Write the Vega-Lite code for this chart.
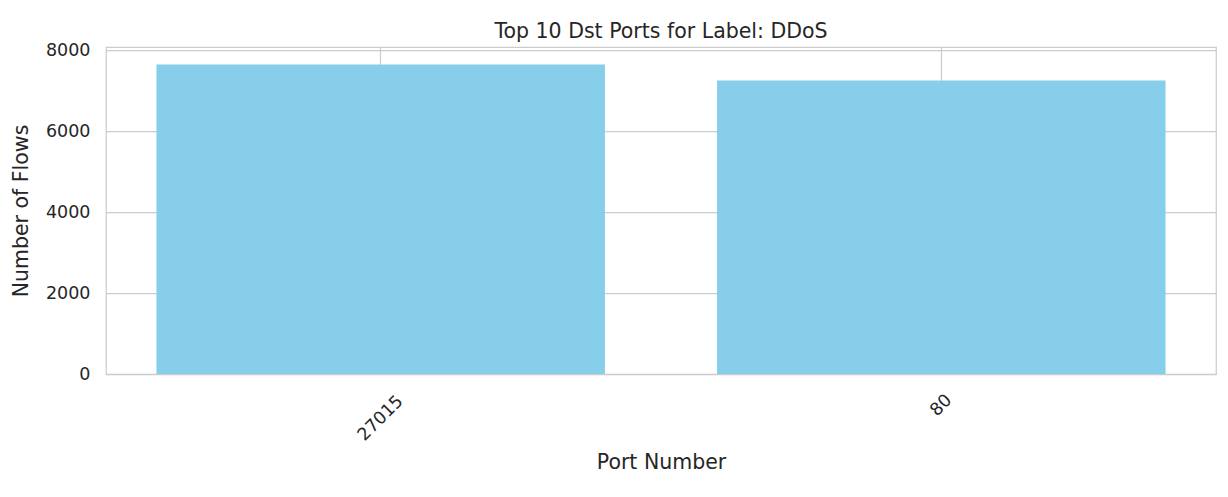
{
  "$schema": "https://vega.github.io/schema/vega-lite/v6.json",
  "autosize": {"type": "none"},
  "padding": {"left": 106, "top": 47, "right": 12, "bottom": 123},
  "width": 1110,
  "height": 327,
  "background": "white",
  "title": {
    "text": "Top 10 Dst Ports for Label: DDoS",
    "font": "DejaVu Sans",
    "fontSize": 20.5,
    "fontWeight": "normal",
    "color": "#262626",
    "offset": -1
  },
  "config": {
    "view": {"stroke": "#cccccc", "strokeWidth": 1.25},
    "axis": {
      "labelFont": "DejaVu Sans",
      "titleFont": "DejaVu Sans",
      "labelColor": "#262626",
      "titleColor": "#262626",
      "titleFontWeight": "normal",
      "gridColor": "#cccccc",
      "gridWidth": 1.25,
      "gridOpacity": 1,
      "domain": false,
      "ticks": false
    }
  },
  "data": {
    "values": [
      {"port": "27015", "flows": 7650},
      {"port": "80", "flows": 7250}
    ]
  },
  "mark": {"type": "bar", "color": "#87CEEB"},
  "encoding": {
    "x": {
      "field": "port",
      "type": "nominal",
      "sort": null,
      "scale": {"paddingInner": 0.2, "paddingOuter": 0.09},
      "axis": {
        "title": "Port Number",
        "titleFontSize": 20.5,
        "labelFontSize": 17.5,
        "labelAngle": -45,
        "labelAlign": "center",
        "labelBaseline": "middle",
        "labelPadding": {"condition": {"test": "length(datum.label) > 3", "value": 44}, "value": 31},
        "titlePadding": 9,
        "grid": true,
        "bandPosition": 0.5
      }
    },
    "y": {
      "field": "flows",
      "type": "quantitative",
      "scale": {"domain": [0, 8080], "nice": false},
      "axis": {
        "title": "Number of Flows",
        "titleFontSize": 20.5,
        "labelFontSize": 17.5,
        "format": "d",
        "values": [0, 2000, 4000, 6000, 8000],
        "labelPadding": 16,
        "titlePadding": 14,
        "grid": true
      }
    }
  }
}
